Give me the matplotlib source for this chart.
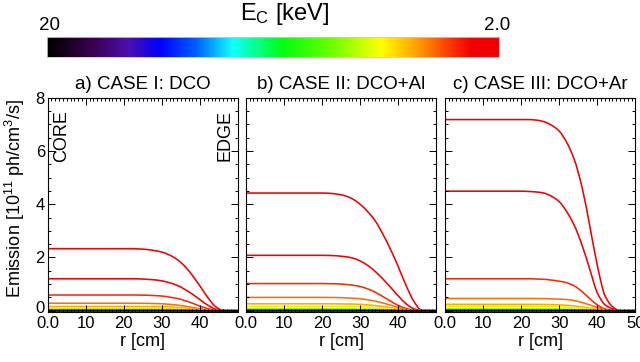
import numpy as np
import matplotlib
matplotlib.use("Agg")
import matplotlib.pyplot as plt
from matplotlib.colors import LinearSegmentedColormap
from matplotlib.ticker import MultipleLocator, FixedLocator
from matplotlib.path import Path
from matplotlib.patches import PathPatch
from matplotlib.transforms import ScaledTranslation

plt.rcParams['font.family'] = ['Liberation Sans', 'DejaVu Sans']
plt.rcParams['mathtext.fontset'] = 'custom'
plt.rcParams['mathtext.rm'] = 'Liberation Sans'
plt.rcParams['mathtext.it'] = 'Liberation Sans:italic'

# ---------------- data ----------------
R_CM = [0, 20, 22, 24, 26, 28, 30, 32, 34, 36, 38, 40, 42, 44, 46, 48, 50]
E_KEV = [2.0, 2.2, 2.5, 2.8, 3.1, 3.5, 4.5, 6.0, 8.0, 11.0, 15.0, 20.0]

case_a = [
    [2.33, 2.33, 2.33, 2.32, 2.30, 2.26, 2.20, 2.09, 1.92, 1.67, 1.32, 0.92, 0.50, 0.16, 0.01, 0, 0],
    [1.20, 1.20, 1.20, 1.195, 1.18, 1.16, 1.12, 1.05, 0.95, 0.80, 0.62, 0.41, 0.21, 0.06, 0, 0, 0],
    [0.59, 0.59, 0.59, 0.588, 0.58, 0.57, 0.55, 0.51, 0.46, 0.38, 0.28, 0.17, 0.08, 0.02, 0, 0, 0],
    [0.28, 0.28, 0.28, 0.279, 0.275, 0.27, 0.26, 0.24, 0.21, 0.17, 0.12, 0.075, 0.035, 0.01, 0, 0, 0],
    [0.16, 0.16, 0.16, 0.159, 0.157, 0.155, 0.15, 0.14, 0.12, 0.10, 0.07, 0.04, 0.015, 0, 0, 0, 0],
    [0.10, 0.10, 0.10, 0.099, 0.098, 0.097, 0.094, 0.088, 0.078, 0.064, 0.046, 0.026, 0.01, 0, 0, 0, 0],
    [0.05, 0.05, 0.05, 0.05, 0.049, 0.049, 0.047, 0.044, 0.039, 0.032, 0.023, 0.013, 0.005, 0, 0, 0, 0],
    [0.025, 0.025, 0.025, 0.025, 0.025, 0.024, 0.023, 0.022, 0.019, 0.016, 0.011, 0.006, 0.002, 0, 0, 0, 0],
    [0.012, 0.012, 0.012, 0.012, 0.012, 0.012, 0.011, 0.011, 0.009, 0.008, 0.005, 0.003, 0.001, 0, 0, 0, 0],
    [0.006, 0.006, 0.006, 0.006, 0.006, 0.006, 0.005, 0.005, 0.004, 0.004, 0.003, 0.001, 0, 0, 0, 0, 0],
    [0.003, 0.003, 0.003, 0.003, 0.003, 0.003, 0.003, 0.002, 0.002, 0.002, 0.001, 0.001, 0, 0, 0, 0, 0],
    [0.001, 0.001, 0.001, 0.001, 0.001, 0.001, 0.001, 0.001, 0.001, 0.001, 0, 0, 0, 0, 0, 0, 0],
]

case_b = [
    [4.42, 4.42, 4.41, 4.38, 4.32, 4.20, 4.00, 3.72, 3.37, 2.87, 2.30, 1.66, 0.97, 0.38, 0.03, 0, 0],
    [2.08, 2.08, 2.075, 2.06, 2.03, 1.98, 1.87, 1.70, 1.47, 1.19, 0.88, 0.56, 0.27, 0.08, 0, 0, 0],
    [1.02, 1.02, 1.015, 1.01, 0.99, 0.96, 0.91, 0.82, 0.69, 0.53, 0.36, 0.20, 0.09, 0.02, 0, 0, 0],
    [0.50, 0.50, 0.498, 0.495, 0.485, 0.47, 0.45, 0.41, 0.36, 0.29, 0.21, 0.12, 0.05, 0.01, 0, 0, 0],
    [0.26, 0.26, 0.259, 0.257, 0.253, 0.248, 0.24, 0.22, 0.19, 0.16, 0.11, 0.07, 0.03, 0.005, 0, 0, 0],
    [0.16, 0.16, 0.16, 0.158, 0.156, 0.153, 0.147, 0.137, 0.12, 0.10, 0.07, 0.045, 0.015, 0, 0, 0, 0],
    [0.07, 0.07, 0.07, 0.069, 0.068, 0.067, 0.064, 0.06, 0.053, 0.044, 0.031, 0.019, 0.007, 0, 0, 0, 0],
    [0.035, 0.035, 0.035, 0.035, 0.034, 0.033, 0.032, 0.03, 0.026, 0.022, 0.016, 0.009, 0.003, 0, 0, 0, 0],
    [0.015, 0.015, 0.015, 0.015, 0.015, 0.014, 0.014, 0.013, 0.011, 0.009, 0.007, 0.004, 0.001, 0, 0, 0, 0],
    [0.007, 0.007, 0.007, 0.007, 0.007, 0.007, 0.006, 0.006, 0.005, 0.004, 0.003, 0.002, 0, 0, 0, 0, 0],
    [0.003, 0.003, 0.003, 0.003, 0.003, 0.003, 0.003, 0.003, 0.002, 0.002, 0.001, 0.001, 0, 0, 0, 0, 0],
    [0.001, 0.001, 0.001, 0.001, 0.001, 0.001, 0.001, 0.001, 0.001, 0.001, 0, 0, 0, 0, 0, 0, 0],
]

case_c = [
    [7.18, 7.18, 7.18, 7.16, 7.10, 6.97, 6.75, 6.32, 5.67, 4.65, 3.22, 1.72, 0.58, 0.15, 0.0, 0, 0],
    [4.49, 4.49, 4.48, 4.46, 4.42, 4.30, 4.10, 3.72, 3.20, 2.47, 1.58, 0.68, 0.23, 0.07, 0, 0, 0],
    [1.20, 1.20, 1.20, 1.19, 1.18, 1.15, 1.11, 1.05, 0.93, 0.72, 0.46, 0.22, 0.07, 0.01, 0, 0, 0],
    [0.46, 0.46, 0.46, 0.458, 0.455, 0.445, 0.435, 0.42, 0.38, 0.31, 0.22, 0.12, 0.04, 0, 0, 0, 0],
    [0.24, 0.24, 0.24, 0.238, 0.236, 0.23, 0.22, 0.205, 0.18, 0.145, 0.10, 0.055, 0.02, 0, 0, 0, 0],
    [0.16, 0.16, 0.16, 0.159, 0.157, 0.154, 0.147, 0.137, 0.12, 0.095, 0.065, 0.035, 0.012, 0, 0, 0, 0],
    [0.07, 0.07, 0.07, 0.069, 0.068, 0.067, 0.064, 0.06, 0.052, 0.042, 0.029, 0.016, 0.005, 0, 0, 0, 0],
    [0.035, 0.035, 0.035, 0.035, 0.034, 0.033, 0.032, 0.03, 0.026, 0.021, 0.015, 0.008, 0.002, 0, 0, 0, 0],
    [0.015, 0.015, 0.015, 0.015, 0.015, 0.014, 0.014, 0.013, 0.011, 0.009, 0.006, 0.003, 0.001, 0, 0, 0, 0],
    [0.007, 0.007, 0.007, 0.007, 0.007, 0.007, 0.006, 0.006, 0.005, 0.004, 0.003, 0.001, 0, 0, 0, 0, 0],
    [0.003, 0.003, 0.003, 0.003, 0.003, 0.003, 0.003, 0.003, 0.002, 0.002, 0.001, 0.001, 0, 0, 0, 0, 0],
    [0.001, 0.001, 0.001, 0.001, 0.001, 0.001, 0.001, 0.001, 0.001, 0.001, 0, 0, 0, 0, 0, 0, 0],
]

TITLES = ["a) CASE I: DCO", "b) CASE II: DCO+Al", "c) CASE III: DCO+Ar"]
X_TICKS = [0, 10, 20, 30, 40, 50]
X_TICKLABELS_INNER = ["0.0", "10", "20", "30", "40", ""]
X_TICKLABELS_LAST = ["0.0", "10", "20", "30", "40", "50"]
Y_TICKS = [0, 2, 4, 6, 8]
Y_TICKLABELS = ["0", "2", "4", "6", "8"]

# colour table (black -> purple -> blue -> cyan -> green -> yellow -> orange -> red)
cmap = LinearSegmentedColormap.from_list("ec", [
    (0.00, "#000000"),
    (0.10, "#3c0050"),
    (0.18, "#4a10b0"),
    (0.25, "#0000ff"),
    (0.33, "#0060ff"),
    (0.41, "#10ffff"),
    (0.52, "#00ff10"),
    (0.62, "#60ff00"),
    (0.74, "#ffff00"),
    (0.82, "#ffa000"),
    (0.88, "#ff4800"),
    (0.94, "#f00000"),
    (1.00, "#f00000"),
])


def ecolor(e):
    return cmap(1.0 - np.log10(e / 2.0))


def smooth_path(x, y):
    """Monotone cubic (Fritsch-Carlson) Bezier path through the data points."""
    x = np.asarray(x, float)
    y = np.asarray(y, float)
    h = np.diff(x)
    d = np.diff(y) / h
    m = np.zeros_like(y)
    for k in range(1, len(y) - 1):
        if d[k - 1] * d[k] > 0:
            w1 = 2 * h[k] + h[k - 1]
            w2 = h[k] + 2 * h[k - 1]
            m[k] = (w1 + w2) / (w1 / d[k - 1] + w2 / d[k])
    verts = [(x[0], y[0])]
    codes = [Path.MOVETO]
    for k in range(len(x) - 1):
        verts += [(x[k] + h[k] / 3, y[k] + m[k] * h[k] / 3),
                  (x[k + 1] - h[k] / 3, y[k + 1] - m[k + 1] * h[k] / 3),
                  (x[k + 1], y[k + 1])]
        codes += [Path.CURVE4] * 3
    return Path(verts, codes)


fig = plt.figure(figsize=(6.4, 3.62), dpi=100)

# ---------- colour bar ----------
cax = fig.add_axes([0.0734, 0.8425, 0.706, 0.055])
grad = np.linspace(0, 1, 512)[None, :]
cax.imshow(grad, aspect='auto', cmap=cmap, extent=[0, 1, 0, 1])
cax.set_xticks([]); cax.set_yticks([])
for s in cax.spines.values():
    s.set_color('#c8c8c8'); s.set_linewidth(0.6)
fig.text(0.078, 0.905, "20", ha='center', va='bottom', fontsize=13.5)
fig.text(0.776, 0.905, "2.0", ha='center', va='bottom', fontsize=13.5)
fig.text(0.445, 0.925, r"E$_\mathrm{C}$ [keV]", ha='center', va='bottom', fontsize=17)

# ---------- panels ----------
lefts = [0.0745, 0.384, 0.695]
width, bottom, height = 0.2977, 0.138, 0.592
cases = [case_a, case_b, case_c]
for i, (left, data) in enumerate(zip(lefts, cases)):
    ax = fig.add_axes([left, bottom, width, height])
    for e, prof in zip(E_KEV, data):
        ax.add_patch(PathPatch(smooth_path(R_CM, prof), facecolor='none',
                               edgecolor=ecolor(e), lw=1.15))
    ax.set_xlim(0, 50)
    ax.set_ylim(-0.05, 8)
    ax.xaxis.set_major_locator(FixedLocator(X_TICKS))
    ax.xaxis.set_minor_locator(MultipleLocator(1))
    ax.yaxis.set_major_locator(FixedLocator(Y_TICKS))
    ax.yaxis.set_minor_locator(MultipleLocator(0.5))
    ax.tick_params(which='both', direction='in', top=True, right=True, width=0.7)
    ax.tick_params(which='major', length=5, labelsize=12, pad=3)
    ax.tick_params(which='minor', length=2.5)
    ax.set_xticklabels(X_TICKLABELS_LAST if i == 2 else X_TICKLABELS_INNER)
    if i == 0:
        ax.set_yticklabels(Y_TICKLABELS)
        ax.tick_params(axis='y', pad=2)
        lab0 = ax.get_yticklabels()[0]
        lab0.set_transform(lab0.get_transform() + ScaledTranslation(0, 4 / 100, fig.dpi_scale_trans))
    else:
        ax.set_yticklabels([])
    for s in ax.spines.values():
        s.set_linewidth(0.8)
    ax.set_xlabel("r [cm]", fontsize=13, labelpad=1)
    ax.set_title(TITLES[i], fontsize=13.5, pad=6)
    if i == 0:
        ax.text(0.075, 0.944, "CORE", transform=ax.transAxes, rotation=90,
                ha='center', va='top', fontsize=13)
        ax.text(0.93, 0.944, "EDGE", transform=ax.transAxes, rotation=90,
                ha='center', va='top', fontsize=13)

fig.text(0.024, 0.452, r"Emission [10$^{11}$ ph/cm$^3$/s]", rotation=90,
         ha='center', va='center', fontsize=13)

fig.savefig("out.png", dpi=100)
